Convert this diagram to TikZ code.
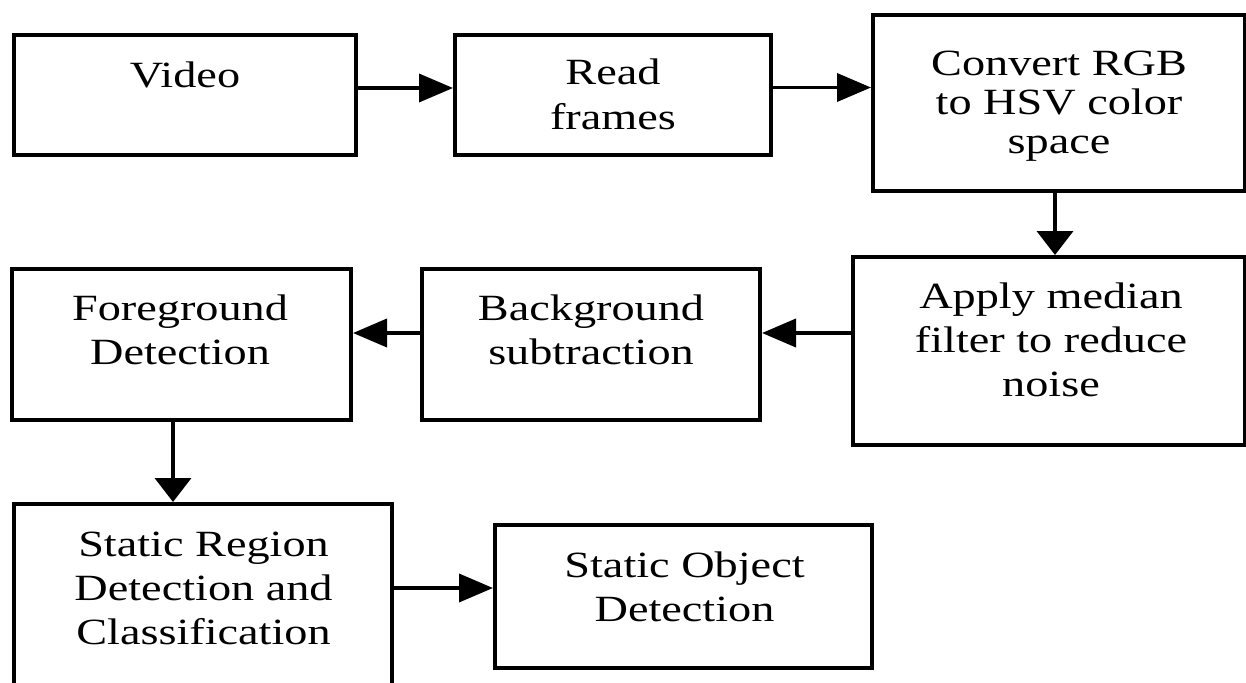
\documentclass[tikz,border=0pt]{standalone}
\usepackage{fontspec}
\setmainfont{Liberation Serif}[FakeStretch=1.25]
\usetikzlibrary{arrows.meta}
\begin{document}
\begin{tikzpicture}[x=1pt,y=-1pt,
  box/.style={draw=black, line width=3.8pt, rectangle, inner sep=0pt, fill=white},
  txt/.style={anchor=base, inner sep=0pt, font=\fontsize{37}{44}\selectfont},
  harr/.style={line width=3.8pt, -{Triangle[length=34pt,width=28pt]}},
  varr/.style={line width=3.8pt, -{Triangle[length=24pt,width=36pt]}}]
\fill[white] (0,0) rectangle (1246,682);
\useasboundingbox (0,0) rectangle (1246,682);
\clip (0,0) rectangle (1246,682);

% boxes
\node[box, minimum width=342.2pt, minimum height=120.2pt] (video) at (185,95) {};
\node[box, minimum width=316.2pt, minimum height=120.2pt] (read) at (613,95) {};
\node[box, minimum width=372.2pt, minimum height=176.2pt] (conv) at (1059,103) {};
\node[box, minimum width=392.2pt, minimum height=188.2pt] (apply) at (1049,351) {};
\node[box, minimum width=338.2pt, minimum height=151.2pt] (back) at (591,344.5) {};
\node[box, minimum width=339.2pt, minimum height=151.2pt] (fore) at (181.5,344.5) {};
\node[box, minimum width=378.2pt, minimum height=194.2pt] (sreg) at (203,601) {};
\node[box, minimum width=377.2pt, minimum height=143.2pt] (sobj) at (683.5,596.5) {};

% texts
\node[txt] (video-t) at (185,88) {Video};
\node[txt] (read-t) at (613,85) {\begin{tabular}[t]{@{}c@{}}Read\\frames\end{tabular}};
\node[txt, font=\fontsize{37}{39}\selectfont] (conv-t) at (1059,76) {\begin{tabular}[t]{@{}c@{}}Convert RGB\\to HSV color\\space\end{tabular}};
\node[txt] (apply-t) at (1051,308) {\begin{tabular}[t]{@{}c@{}}Apply median\\filter to reduce\\noise\end{tabular}};
\node[txt] (back-t) at (591,320) {\begin{tabular}[t]{@{}c@{}}Background\\subtraction\end{tabular}};
\node[txt] (fore-t) at (180,320) {\begin{tabular}[t]{@{}c@{}}Foreground\\Detection\end{tabular}};
\node[txt] (sreg-t) at (203.5,556) {\begin{tabular}[t]{@{}c@{}}Static Region\\Detection and\\Classification\end{tabular}};
\node[txt] (sobj-t) at (684.5,577) {\begin{tabular}[t]{@{}c@{}}Static Object\\Detection\end{tabular}};

% connector rows / columns
\coordinate (r1) at (0,88);
\coordinate (r2) at (0,87.5);
\coordinate (c3) at (1055,0);
\coordinate (r4) at (0,333);
\coordinate (c6) at (173,0);
\coordinate (r7) at (0,588);

\draw[harr] (video.east |- r1) -- (read.west |- r1);
\draw[harr] (read.east |- r2) -- (conv.west |- r2);
\draw[varr] (conv.south -| c3) -- (apply.north -| c3);
\draw[harr] (apply.west |- r4) -- (back.east |- r4);
\draw[harr] (back.west |- r4) -- (fore.east |- r4);
\draw[varr] (fore.south -| c6) -- (sreg.north -| c6);
\draw[harr] (sreg.east |- r7) -- (sobj.west |- r7);
\end{tikzpicture}
\end{document}
